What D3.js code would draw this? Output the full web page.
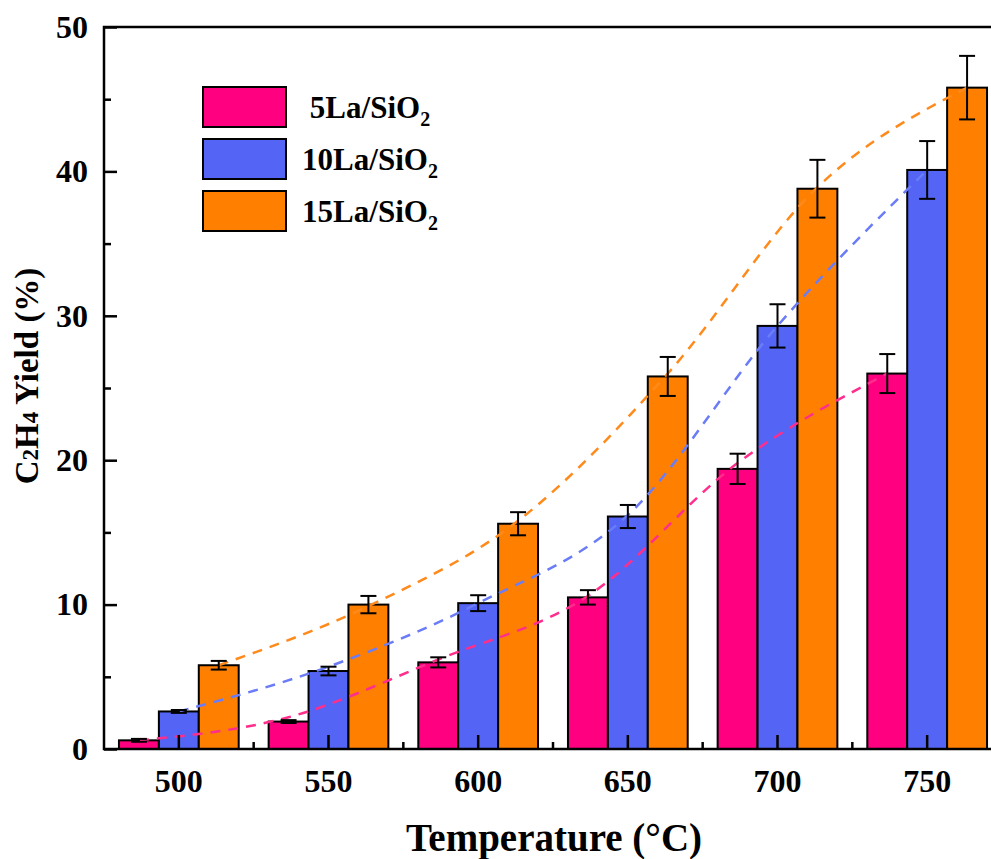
<!DOCTYPE html>
<html>
<head>
<meta charset="utf-8">
<script src="https://cdn.jsdelivr.net/npm/d3@7"></script>
<style>
  body { margin: 0; background: #fff; }
  text { font-family: "Liberation Serif", "Times New Roman", serif; font-weight: bold; fill: #000; }
</style>
</head>
<body>
<div id="chart"></div>
<script>
// categories and series
const temps = ["500", "550", "600", "650", "700", "750"];
const seriesNames = ["5La/SiO2", "10La/SiO2", "15La/SiO2"];

// C2H4 yield (%)
const la5 = [0.6, 1.9, 6.0, 10.5, 19.4, 26.0];
const la10 = [2.6, 5.4, 10.1, 16.1, 29.3, 40.1];
const la15 = [5.8, 10.0, 15.6, 25.8, 38.8, 45.8];

// error bar half widths
const la5Err = [0.1, 0.1, 0.35, 0.5, 1.05, 1.35];
const la10Err = [0.1, 0.3, 0.55, 0.8, 1.5, 2.0];
const la15Err = [0.3, 0.6, 0.8, 1.35, 2.0, 2.2];

// dashed trend curves, values at each bar centre
const la5Fit = [0.6, 2.2, 6.2, 10.6, 19.8, 26.0];
const la10Fit = [2.6, 5.7, 10.1, 16.2, 29.3, 40.1];
const la15Fit = [5.8, 9.9, 15.8, 26.0, 38.9, 45.8];

const yTicks = [0, 10, 20, 30, 40, 50];
const yMinorTicks = [5, 15, 25, 35, 45];

const series = [
    { name: seriesNames[0], values: la5, err: la5Err, fit: la5Fit, fill: "#ff0080", dash: "#ff2d8c" },
    { name: seriesNames[1], values: la10, err: la10Err, fit: la10Fit, fill: "#5465f5", dash: "#6b7cf7" },
    { name: seriesNames[2], values: la15, err: la15Err, fit: la15Fit, fill: "#ff8000", dash: "#ff8a1c" }
];

const width = 991, height = 859;
const plotLeft = 104, plotRight = 1002, plotTop = 27, plotBottom = 749;

const svg = d3.select("#chart")
    .append("svg")
    .attr("width", width)
    .attr("height", height);

// scales
const x = d3.scaleBand().domain(temps).range([plotLeft, plotRight]);
const xs = d3.scaleBand().domain(seriesNames)
    .range([x.bandwidth() * 0.1, x.bandwidth() * 0.9]);
const y = d3.scaleLinear().domain([0, 50]).range([plotBottom, plotTop]);

const cx = (name, t) => x(t) + xs(name) + xs.bandwidth() / 2;

// bars
series.forEach(s => {
    svg.append("g")
        .selectAll("rect")
        .data(s.values)
        .enter()
        .append("rect")
        .attr("x", (d, i) => x(temps[i]) + xs(s.name))
        .attr("y", d => y(d))
        .attr("width", xs.bandwidth())
        .attr("height", d => y(0) - y(d))
        .attr("fill", s.fill)
        .attr("stroke", "#000")
        .attr("stroke-width", 2);
});

// dashed trend lines
const line = d3.line().curve(d3.curveMonotoneX);
series.forEach(s => {
    svg.append("path")
        .attr("d", line(s.fit.map((v, i) => [cx(s.name, temps[i]), y(v)])))
        .attr("fill", "none")
        .attr("stroke", s.dash)
        .attr("stroke-width", 2.5)
        .attr("stroke-dasharray", "10,8");
});

// error bars
series.forEach(s => {
    const g = svg.append("g").attr("stroke", "#000").attr("stroke-width", 2);
    s.values.forEach((v, i) => {
        const c = cx(s.name, temps[i]);
        const lo = y(v - s.err[i]), hi = y(v + s.err[i]);
        g.append("line").attr("x1", c).attr("x2", c).attr("y1", lo).attr("y2", hi);
        g.append("line").attr("x1", c - 8).attr("x2", c + 8).attr("y1", lo).attr("y2", lo);
        g.append("line").attr("x1", c - 8).attr("x2", c + 8).attr("y1", hi).attr("y2", hi);
    });
});

// y axis (ticks point inward)
const yAxis = svg.append("g")
    .attr("transform", `translate(${plotLeft},0)`)
    .call(d3.axisLeft(y).tickValues(yTicks).tickSize(-13).tickSizeOuter(0).tickPadding(16));
yAxis.select(".domain").remove();
yAxis.selectAll("line").attr("stroke-width", 2.5);
yAxis.selectAll("text").style("font-size", "32px").attr("font-family", null);

const yMinor = svg.append("g")
    .attr("transform", `translate(${plotLeft},0)`)
    .call(d3.axisLeft(y).tickValues(yMinorTicks).tickSize(-7).tickFormat(""));
yMinor.select(".domain").remove();
yMinor.selectAll("line").attr("stroke-width", 2.5);

// x axis
const xAxis = svg.append("g")
    .attr("transform", `translate(0,${plotBottom})`)
    .call(d3.axisBottom(x).tickSize(-14).tickSizeOuter(0).tickPadding(20));
xAxis.select(".domain").remove();
xAxis.selectAll("line").attr("stroke-width", 2.5);
xAxis.selectAll("text").style("font-size", "32px").attr("font-family", null);

// minor x ticks between groups
svg.append("g")
    .selectAll("line")
    .data(temps.slice(1))
    .enter()
    .append("line")
    .attr("x1", d => x(d))
    .attr("x2", d => x(d))
    .attr("y1", plotBottom)
    .attr("y2", plotBottom - 7)
    .attr("stroke", "#000")
    .attr("stroke-width", 2.5);

// frame
svg.append("rect")
    .attr("x", plotLeft)
    .attr("y", plotTop)
    .attr("width", plotRight - plotLeft)
    .attr("height", plotBottom - plotTop)
    .attr("fill", "none")
    .attr("stroke", "#000")
    .attr("stroke-width", 2.5);

// axis titles
svg.append("text")
    .attr("x", 554)
    .attr("y", 851)
    .attr("text-anchor", "middle")
    .style("font-size", "39px")
    .text("Temperature (°C)");

const yTitle = svg.append("text")
    .attr("transform", "translate(38,376) rotate(-90)")
    .attr("text-anchor", "middle")
    .style("font-size", "33px");
yTitle.append("tspan").text("C");
yTitle.append("tspan").style("font-size", "23px").text("2");
yTitle.append("tspan").text("H");
yTitle.append("tspan").style("font-size", "23px").text("4");
yTitle.append("tspan").text(" Yield (%)");

// legend
const legend = svg.append("g");
series.forEach((s, i) => {
    const ly = 87 + i * 52;
    legend.append("rect")
        .attr("x", 203)
        .attr("y", ly)
        .attr("width", 83)
        .attr("height", 40)
        .attr("fill", s.fill)
        .attr("stroke", "#000")
        .attr("stroke-width", 2);
    const t = legend.append("text")
        .attr("x", 370)
        .attr("y", ly + 31)
        .attr("text-anchor", "middle")
        .style("font-size", "31px");
    t.append("tspan").text(s.name.slice(0, -1));
    t.append("tspan").attr("dy", 8).style("font-size", "20px").text(s.name.slice(-1));
});
</script>
</body>
</html>
